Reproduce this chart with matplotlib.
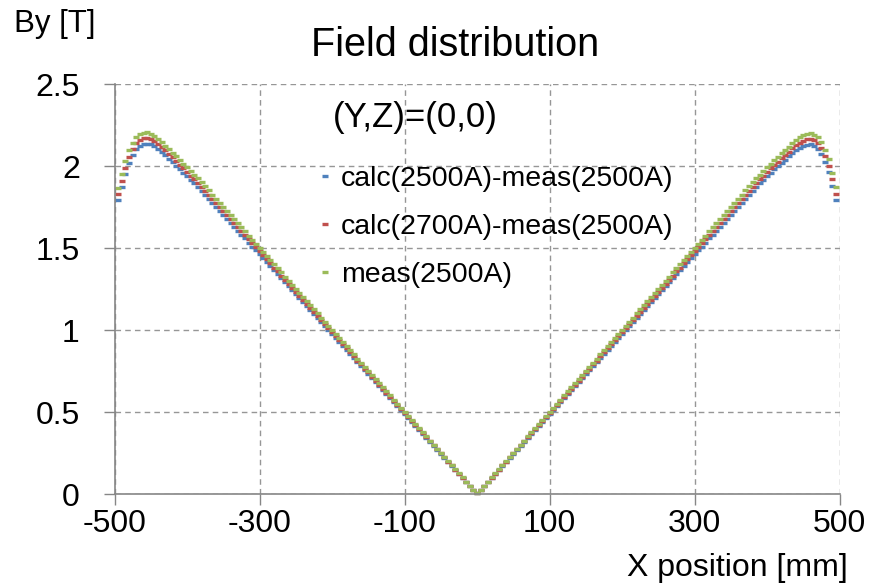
import numpy as np
import matplotlib
matplotlib.use("Agg")
import matplotlib.pyplot as plt

plt.rcParams["font.family"] = ["Liberation Sans", "DejaVu Sans"]
plt.rcParams["axes.unicode_minus"] = False

# X positions [mm], 5 mm pitch
x_mm = np.arange(-495, 500, 5)

# calc(2500A)-meas(2500A)
by_calc2500 = [
    1.790, 1.870, 1.953, 2.020, 2.070, 2.104, 2.125, 2.135, 2.137, 2.132,
    2.120, 2.104, 2.085, 2.065, 2.044, 2.023, 2.002, 1.981, 1.960, 1.939,
    1.917, 1.895, 1.873, 1.850, 1.825, 1.801, 1.777, 1.752, 1.728, 1.704,
    1.679, 1.655, 1.631, 1.606, 1.582, 1.558, 1.533, 1.509, 1.485, 1.461,
    1.436, 1.412, 1.388, 1.363, 1.339, 1.315, 1.290, 1.266, 1.242, 1.217,
    1.193, 1.169, 1.144, 1.120, 1.096, 1.071, 1.047, 1.023, 0.998, 0.974,
    0.950, 0.925, 0.901, 0.877, 0.852, 0.828, 0.804, 0.779, 0.755, 0.731,
    0.706, 0.682, 0.658, 0.633, 0.609, 0.585, 0.560, 0.536, 0.512, 0.488,
    0.463, 0.439, 0.415, 0.390, 0.366, 0.342, 0.317, 0.293, 0.269, 0.244,
    0.220, 0.196, 0.171, 0.147, 0.123, 0.098, 0.074, 0.050, 0.025, 0.008,
    0.025, 0.050, 0.074, 0.098, 0.123, 0.147, 0.171, 0.196, 0.220, 0.244,
    0.269, 0.293, 0.317, 0.342, 0.366, 0.390, 0.415, 0.439, 0.463, 0.488,
    0.512, 0.536, 0.560, 0.585, 0.609, 0.633, 0.658, 0.682, 0.706, 0.731,
    0.755, 0.779, 0.804, 0.828, 0.852, 0.877, 0.901, 0.925, 0.950, 0.974,
    0.998, 1.023, 1.047, 1.071, 1.096, 1.120, 1.144, 1.169, 1.193, 1.217,
    1.242, 1.266, 1.290, 1.315, 1.339, 1.363, 1.388, 1.412, 1.436, 1.461,
    1.485, 1.509, 1.533, 1.558, 1.582, 1.606, 1.631, 1.655, 1.679, 1.704,
    1.728, 1.752, 1.777, 1.801, 1.825, 1.850, 1.873, 1.895, 1.917, 1.938,
    1.958, 1.979, 1.999, 2.019, 2.039, 2.058, 2.077, 2.095, 2.111, 2.123,
    2.131, 2.133, 2.124, 2.104, 2.073, 2.025, 1.963, 1.881, 1.790,
]

# calc(2700A)-meas(2500A)
by_calc2700 = [
    1.827, 1.909, 1.990, 2.057, 2.105, 2.139, 2.160, 2.169, 2.171, 2.165,
    2.152, 2.135, 2.115, 2.095, 2.073, 2.052, 2.030, 2.008, 1.987, 1.965,
    1.942, 1.921, 1.898, 1.874, 1.850, 1.825, 1.800, 1.776, 1.751, 1.727,
    1.702, 1.677, 1.653, 1.628, 1.603, 1.579, 1.554, 1.529, 1.505, 1.480,
    1.455, 1.431, 1.406, 1.381, 1.357, 1.332, 1.307, 1.283, 1.258, 1.234,
    1.209, 1.184, 1.160, 1.135, 1.110, 1.086, 1.061, 1.036, 1.012, 0.987,
    0.962, 0.938, 0.913, 0.888, 0.864, 0.839, 0.814, 0.790, 0.765, 0.741,
    0.716, 0.691, 0.667, 0.642, 0.617, 0.593, 0.568, 0.543, 0.519, 0.494,
    0.469, 0.445, 0.420, 0.395, 0.371, 0.346, 0.321, 0.297, 0.272, 0.248,
    0.223, 0.198, 0.174, 0.149, 0.124, 0.100, 0.075, 0.050, 0.026, 0.008,
    0.026, 0.050, 0.075, 0.100, 0.124, 0.149, 0.174, 0.198, 0.223, 0.248,
    0.272, 0.297, 0.321, 0.346, 0.371, 0.395, 0.420, 0.445, 0.469, 0.494,
    0.519, 0.543, 0.568, 0.593, 0.617, 0.642, 0.667, 0.691, 0.716, 0.741,
    0.765, 0.790, 0.814, 0.839, 0.864, 0.888, 0.913, 0.938, 0.962, 0.987,
    1.012, 1.036, 1.061, 1.086, 1.110, 1.135, 1.160, 1.184, 1.209, 1.234,
    1.258, 1.283, 1.307, 1.332, 1.357, 1.381, 1.406, 1.431, 1.455, 1.480,
    1.505, 1.529, 1.554, 1.579, 1.603, 1.628, 1.653, 1.677, 1.702, 1.727,
    1.751, 1.776, 1.800, 1.825, 1.850, 1.874, 1.898, 1.921, 1.942, 1.964,
    1.985, 2.006, 2.027, 2.048, 2.068, 2.088, 2.107, 2.126, 2.142, 2.155,
    2.163, 2.165, 2.157, 2.138, 2.108, 2.062, 2.001, 1.920, 1.829,
]

# meas(2500A)
by_meas2500 = [
    1.868, 1.950, 2.030, 2.095, 2.142, 2.175, 2.195, 2.204, 2.205, 2.198,
    2.184, 2.166, 2.146, 2.125, 2.103, 2.081, 2.059, 2.037, 2.015, 1.993,
    1.970, 1.948, 1.925, 1.901, 1.876, 1.851, 1.826, 1.801, 1.776, 1.751,
    1.726, 1.701, 1.676, 1.651, 1.626, 1.601, 1.576, 1.551, 1.526, 1.501,
    1.476, 1.451, 1.426, 1.401, 1.376, 1.351, 1.326, 1.301, 1.276, 1.251,
    1.226, 1.201, 1.176, 1.151, 1.126, 1.101, 1.076, 1.051, 1.026, 1.001,
    0.976, 0.951, 0.926, 0.901, 0.876, 0.851, 0.826, 0.801, 0.776, 0.751,
    0.726, 0.701, 0.676, 0.651, 0.626, 0.601, 0.576, 0.551, 0.526, 0.501,
    0.476, 0.451, 0.426, 0.401, 0.376, 0.351, 0.326, 0.301, 0.276, 0.251,
    0.226, 0.201, 0.176, 0.151, 0.126, 0.101, 0.076, 0.051, 0.026, 0.008,
    0.026, 0.051, 0.076, 0.101, 0.126, 0.151, 0.176, 0.201, 0.226, 0.251,
    0.276, 0.301, 0.326, 0.351, 0.376, 0.401, 0.426, 0.451, 0.476, 0.501,
    0.526, 0.551, 0.576, 0.601, 0.626, 0.651, 0.676, 0.701, 0.726, 0.751,
    0.776, 0.801, 0.826, 0.851, 0.876, 0.901, 0.926, 0.951, 0.976, 1.001,
    1.026, 1.051, 1.076, 1.101, 1.126, 1.151, 1.176, 1.201, 1.226, 1.251,
    1.276, 1.301, 1.326, 1.351, 1.376, 1.401, 1.426, 1.451, 1.476, 1.501,
    1.526, 1.551, 1.576, 1.601, 1.626, 1.651, 1.676, 1.701, 1.726, 1.751,
    1.776, 1.801, 1.826, 1.851, 1.876, 1.901, 1.925, 1.948, 1.970, 1.992,
    2.013, 2.035, 2.056, 2.077, 2.098, 2.118, 2.138, 2.157, 2.174, 2.187,
    2.196, 2.199, 2.192, 2.174, 2.145, 2.100, 2.040, 1.960, 1.870,
]

labels = ["calc(2500A)-meas(2500A)", "calc(2700A)-meas(2500A)", "meas(2500A)"]
colors = ["#4F81BD", "#C0504D", "#9BBB59"]
x_ticks = [-500, -300, -100, 100, 300, 500]
y_ticks = [0, 0.5, 1, 1.5, 2, 2.5]

fig = plt.figure(figsize=(8.69, 5.88), dpi=100)
ax = fig.add_axes([114.5 / 869, 1 - 494 / 588, 725 / 869, 410 / 588])

for y, c, lab in zip([by_calc2500, by_calc2700, by_meas2500], colors, labels):
    ax.plot(x_mm, y, linestyle="none", marker="_", markersize=4.2,
            markeredgewidth=2.4, color=c, label=lab, clip_on=False)

ax.set_xlim(-500, 500)
ax.set_ylim(0, 2.5)
ax.set_xticks(x_ticks)
ax.set_yticks(y_ticks)
ax.set_yticklabels(["0", "0.5", "1", "1.5", "2", "2.5"])
ax.tick_params(axis="both", labelsize=23, color="#868686", length=8, width=1)
ax.tick_params(axis="y", pad=17)
ax.tick_params(axis="x", pad=3)

ax.grid(True, linestyle=(0, (4, 3)), color="#969696", linewidth=1)
ax.set_axisbelow(True)
for s in ["top", "right"]:
    ax.spines[s].set_visible(False)
for s in ["left", "bottom"]:
    ax.spines[s].set_color("#868686")
    ax.spines[s].set_linewidth(1.2)

leg = ax.legend(loc="upper left", bbox_to_anchor=(318 / 869, 1 - 166 / 588),
                bbox_transform=fig.transFigure, frameon=False, fontsize=20.5,
                handlelength=0.5, handletextpad=0.3, labelspacing=0.78,
                borderpad=0, borderaxespad=0)

fig.text(333 / 869, 1 - 118 / 588, "(Y,Z)=(0,0)", fontsize=25,
         ha="left", va="center")
fig.text(455 / 869, 1 - 45 / 588, "Field distribution", fontsize=28.5,
         ha="center", va="center")
fig.text(14 / 869, 1 - 24 / 588, "By [T]", fontsize=22.5, ha="left", va="center")
fig.text(848 / 869, 1 - 568 / 588, "X position [mm]", fontsize=23,
         ha="right", va="center")

plt.savefig("out.png", dpi=100)
plt.close()
